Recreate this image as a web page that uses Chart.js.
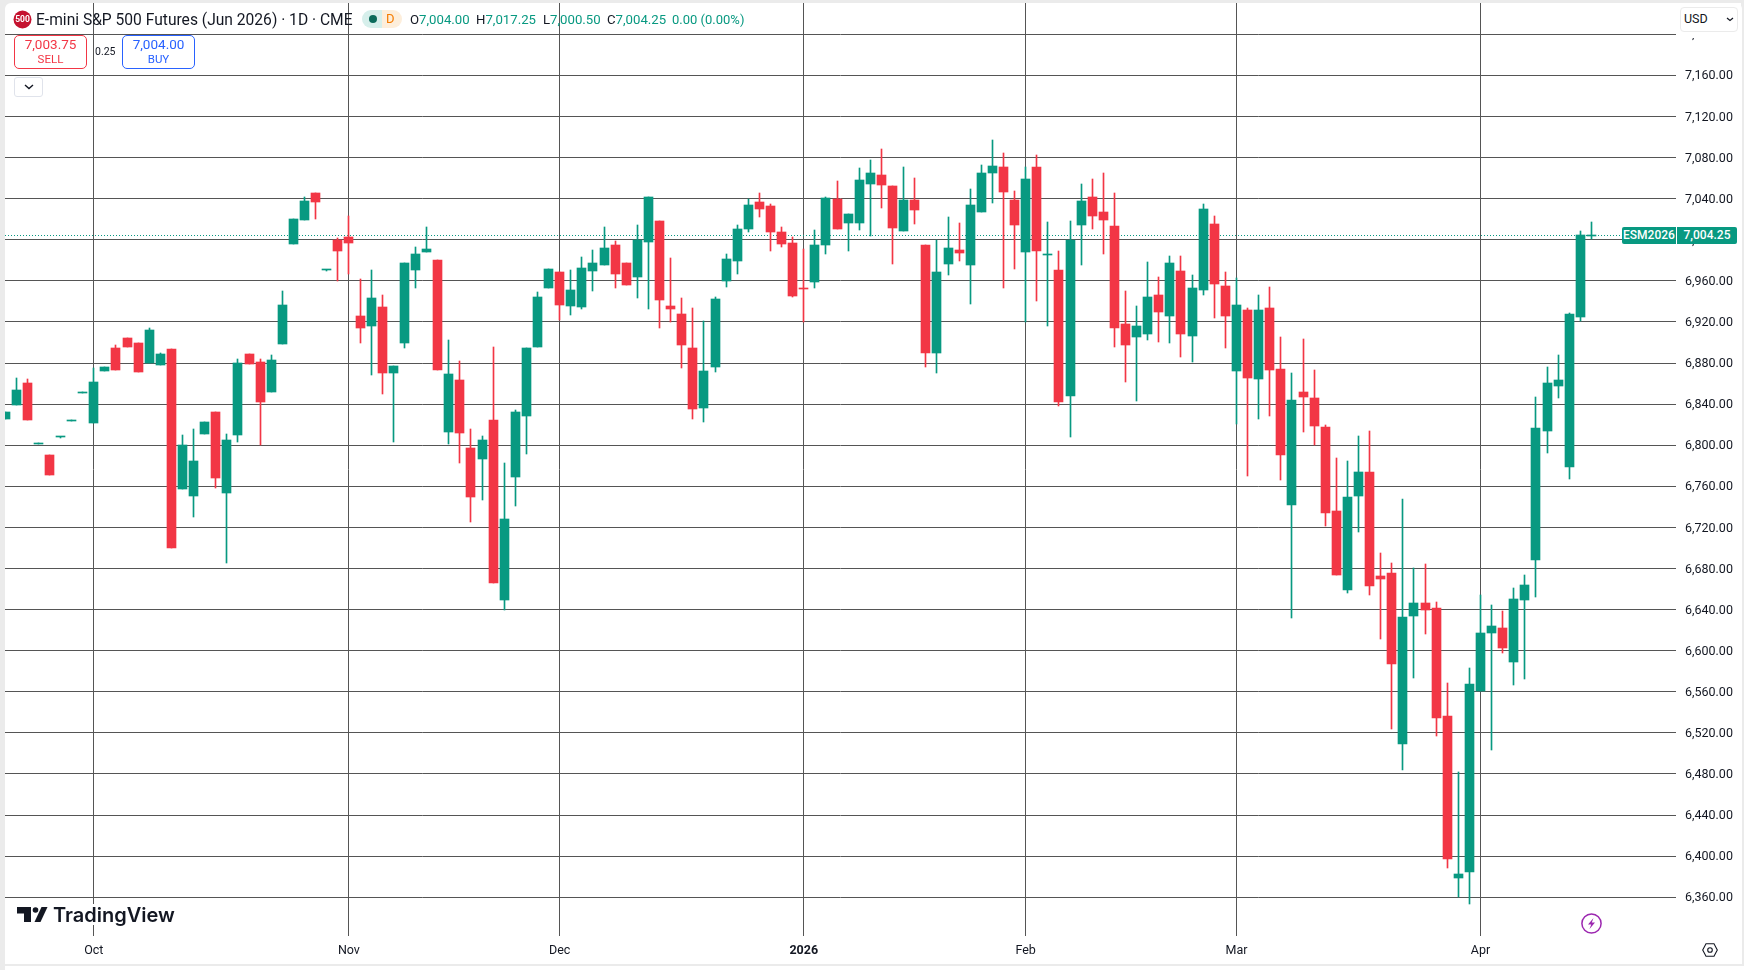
<!DOCTYPE html>
<html>
<head>
<meta charset="utf-8">
<title>ESM2026 daily</title>
<script src="https://cdn.jsdelivr.net/npm/chart.js@4"></script>
<style>
html, body { margin: 0; padding: 0; width: 1744px; height: 970px; overflow: hidden; background: #ebebeb; font-family: Roboto, sans-serif; color: #131722; }
#frame { position: absolute; left: 5px; top: 3px; width: 1737px; height: 961px; background: #fff; border-radius: 6px 6px 0 0; }
#foot { position: absolute; left: 5px; top: 966px; width: 1739px; height: 4px; background: #fff; }
canvas { position: absolute; left: 0; top: 0; }
.t { position: absolute; white-space: nowrap; line-height: 18px; height: 18px; }
.up { color: #089981; }
.box { position: absolute; box-sizing: border-box; background: #fff; }
.order { border-radius: 5px; border: 1px solid; width: 73px; height: 34px; top: 35px; text-align: center; }
.order b { display: block; font-weight: 400; font-size: 13.5px; line-height: 15px; margin-top: 1px; }
.order i { display: block; font-style: normal; font-size: 11.5px; line-height: 13px; margin-top: 1px; }
.tag { position: absolute; background: #089981; color: #fff; font-size: 12px; font-weight: 500; height: 17px; line-height: 17px; text-align: center; }
svg { position: absolute; overflow: visible; }
</style>
</head>
<body>
<div id="frame"></div>
<div id="foot"></div>
<canvas id="chart" width="1744" height="970"></canvas>

<!-- legend row -->
<svg style="left:13px;top:10px" width="19" height="19"><circle cx="9.5" cy="9.5" r="9" fill="#c5122f"/></svg>
<div class="t" style="left:13px;top:10px;width:19px;text-align:center;color:#fff;font-size:8.5px;font-weight:700">500</div>
<div class="t" style="left:36px;top:11px;font-size:15.6px">E-mini S&amp;P 500 Futures (Jun 2026) · 1D · CME</div>
<div class="box" style="left:362px;top:10px;width:20px;height:18px;background:#d6efeb;border-radius:9px 0 0 9px"></div>
<div class="box" style="left:382px;top:10px;width:20px;height:18px;background:#fdeedb;border-radius:0 9px 9px 0"></div>
<svg style="left:368px;top:14px" width="10" height="10"><circle cx="5" cy="5" r="4" fill="#0b6b5b"/></svg>
<div class="t" style="left:386px;top:10px;font-size:13px;color:#f57c00">D</div>
<div class="t" style="left:410px;top:11px;font-size:13.2px">O<span class="up">7,004.00</span></div>
<div class="t" style="left:476px;top:11px;font-size:13.2px">H<span class="up">7,017.25</span></div>
<div class="t" style="left:543px;top:11px;font-size:13.2px">L<span class="up">7,000.50</span></div>
<div class="t" style="left:607px;top:11px;font-size:13.2px">C<span class="up">7,004.25</span></div>
<div class="t up" style="left:672px;top:11px;font-size:13px">0.00 (0.00%)</div>

<!-- order buttons -->
<div class="box order" style="left:14px;border-color:#f23645;color:#f23645"><b>7,003.75</b><i>SELL</i></div>
<div class="t" style="left:95px;top:43px;font-size:10.5px">0.25</div>
<div class="box order" style="left:122px;border-color:#2962ff;color:#2962ff"><b>7,004.00</b><i>BUY</i></div>
<div class="box" style="left:14px;top:77px;width:29px;height:20px;border:1px solid #e0e3eb;border-radius:3px"></div>
<svg style="left:24px;top:84px" width="10" height="6"><path d="M1 1l4 3.5L9 1" fill="none" stroke="#131722" stroke-width="1.4"/></svg>

<!-- right column -->
<div class="box" style="left:1678px;top:3px;width:63px;height:35px"></div>
<div class="box" style="left:1680px;top:7px;width:58px;height:25px;border:1px solid #ebebeb;border-radius:4px"></div>
<div class="t" style="left:1684px;top:10px;font-size:12.5px">USD</div>
<svg style="left:1726px;top:17px" width="8" height="5"><path d="M1 1l3 2.5L7 1" fill="none" stroke="#131722" stroke-width="1.2"/></svg>
<div class="tag" id="tagName" style="left:1622px;width:54px;border-radius:2px 0 0 2px">ESM2026</div>
<div class="tag" id="tagValue" style="left:1677px;width:60px;border-radius:0 2px 2px 0">7,004.25</div>

<!-- logo and icons -->
<div class="box" style="left:16px;top:904px;width:160px;height:21px"></div>
<svg style="left:0;top:0" width="60" height="930">
  <path d="M17 907h14v15h-7v-8.5h-7z" fill="#131722"/>
  <circle cx="35.5" cy="910" r="2.8" fill="#131722"/>
  <path d="M41.5 907H47.5L40.5 922H34.5z" fill="#131722"/>
</svg>
<div class="t" style="left:53px;top:902px;height:26px;line-height:26px;font-family:Inter,sans-serif;font-weight:600;font-size:20px;color:#131722">TradingView</div>
<svg style="left:1581px;top:913px" width="21" height="21">
  <circle cx="10.5" cy="10.5" r="9.6" fill="#fff" stroke="#9c27b0" stroke-width="1.5"/>
  <path d="M12.5 5L7 11.5h3.2L8.5 16l5.5-6.5h-3.2z" fill="#9c27b0"/>
</svg>
<svg style="left:1702px;top:943px" width="16" height="14">
  <path d="M4 .8h8L15.3 7 12 13.2H4L.7 7z" fill="none" stroke="#131722" stroke-width="1.1"/>
  <circle cx="8" cy="7" r="2.3" fill="none" stroke="#131722" stroke-width="1.1"/>
</svg>

<script>
// trading days, MM-DD, one per candle
const categories = [
    '09-19','09-22','09-23','09-24','09-25','09-26','09-29','09-30',
    '10-01','10-02','10-03','10-06','10-07','10-08','10-09','10-10','10-13','10-14','10-15','10-16','10-17','10-20','10-21','10-22','10-23','10-24','10-27','10-28','10-29','10-30','10-31',
    '11-03','11-04','11-05','11-06','11-07','11-10','11-11','11-12','11-13','11-14','11-17','11-18','11-19','11-20','11-21','11-24','11-25','11-26','11-28',
    '12-01','12-02','12-03','12-04','12-05','12-08','12-09','12-10','12-11','12-12','12-15','12-16','12-17','12-18','12-19','12-22','12-23','12-24','12-26','12-29','12-30','12-31',
    '01-02','01-05','01-06','01-07','01-08','01-09','01-12','01-13','01-14','01-15','01-16','01-20','01-21','01-22','01-23','01-26','01-27','01-28','01-29','01-30',
    '02-02','02-03','02-04','02-05','02-06','02-09','02-10','02-11','02-12','02-13','02-17','02-18','02-19','02-20','02-23','02-24','02-25','02-26','02-27',
    '03-02','03-03','03-04','03-05','03-06','03-09','03-10','03-11','03-12','03-13','03-16','03-17','03-18','03-19','03-20','03-23','03-24','03-25','03-26','03-27','03-30','03-31',
    '04-01','04-02','04-06','04-07','04-08','04-09','04-10','04-13','04-14','04-15','04-16'
];

const opens = [
    6825.5,6839.25,6860.5,6801.5,6790.5,6807.5,6824,6851.25,6821.5,6872.25,6894.5,6904.25,6899.5,6879.75,6878,6893.5,
    6757.5,6750.5,6811,6832.25,6753.5,6810,6888.75,6881,6851.75,6898.5,6995.75,7019.25,7045.5,6970.75,6999.75,7002.75,
    6925.75,6916,6934.5,6870.25,6899.5,6970.5,6988,6980.25,6812.75,6863.5,6797.25,6786.5,6824.5,6649.25,6769,6828.5,
    6895.5,6953,6968.5,6935.5,6934.5,6969.5,6975.5,6994.75,6977.25,6963.75,6997.75,7018.25,6935.5,6927.75,6894.5,6836.25,
    6876,6959.5,6979.25,7010.5,7036.75,7032.75,7007.5,6996.75,6952,6959,6994.75,7039.5,7016.25,7016.25,7054.25,7063,
    7052.25,7008.5,7038.75,6994.75,6889.75,6976.25,6990,6975.5,7027,7065,7070.75,7038.75,6988,7070.75,6985.5,6970.5,
    6847.75,7014.25,7041.5,7027,7013.25,6918,6905.25,6908.25,6946.25,6925.75,6969.5,6906.25,6951,7015.25,6955,6872.25,
    6931.5,6864.5,6933.5,6874,6741.75,6851.75,6846,6817.75,6736,6659,6750.5,6774,6672.75,6675.5,6509.25,6633.75,
    6646.5,6641.5,6536.5,6378.75,6384.5,6560.75,6617.25,6622,6589,6649.25,6688.25,6813.75,6857.5,6778.75,6924.75,7004
];
const highs = [
    6832.25,6865.5,6864.5,6801.75,6790.5,6807.75,6824.25,6851.5,6875,6876,6897.5,6904.25,6899.5,6914,6889.75,6893.5,
    6810,6815.75,6822.5,6832.25,6811,6884,6888.75,6884,6887.75,6950,7020,7041.5,7045.5,6971,7001.75,7023,
    6961.75,6970.5,6946.25,6877,6977.25,6993,7012.25,6980.25,6902.5,6882,6815.75,6809,6895.5,6782.75,6834.25,6894.5,
    6949,6971.5,6968.5,6970.5,6983.25,6990,7012.25,6999,6977.25,7014.25,7041.5,7018.25,6982.25,6943.25,6933.5,6921,
    6944.25,6986,7014.25,7039.5,7045.5,7034.75,7012.25,7002.5,6991,7009.5,7041.5,7057,7025,7069.75,7077.5,7088.25,
    7052.25,7070.75,7060,6994.75,6999.5,7022,7016.25,7049.25,7072.75,7097,7084.5,7047.5,7070.75,7082.5,7017.25,6989,
    7018.25,7054.25,7059,7065,7045.5,6950,6935.5,6978.25,6963.75,6984.25,6984.25,6965.75,7034.75,7023,6968.5,6962.75,
    6933.5,6946.25,6954,6905.25,6870.25,6903.25,6873.25,6819.75,6787.5,6784.75,6809,6813.75,6695,6685.25,6747.75,6680.5,
    6684.5,6647.5,6568.5,6482,6583,6654.25,6644.5,6638.5,6661,6673.75,6847,6876,6887.75,6928.75,7008.5,7017.25
];
const lows = [
    6825.5,6839.25,6824.5,6801.5,6771,6807.5,6824,6851.25,6821.5,6872.25,6873.25,6895.5,6871.25,6879.75,6878,6700,
    6757.5,6730,6811,6758.25,6685.25,6803,6879.25,6799.75,6851.75,6898.5,6995.75,7019.25,7020,6970.75,6959.5,6966.5,
    6899.5,6868.25,6849.75,6803,6894.5,6953,6988,6873.25,6801.25,6782.75,6725.25,6746.75,6666,6639.5,6740.75,6791.5,
    6895.5,6953,6921.75,6926.75,6932.5,6950,6975.5,6953,6956,6943.25,6932.5,6914,6919.5,6875,6825.5,6822.5,
    6871.25,6954,6966.5,7007.5,7022,6989,6993,6944.25,6919.5,6953,6986,7010.5,6989,7009.5,7003.5,7030.75,
    6976.25,7008.5,7015.25,6876,6870.25,6965.75,6979.25,6937.5,7027,7035.75,6953,6971.5,6919.5,6940.25,6916,6838.25,
    6808,6975.5,7010.5,6986,6895.5,6861.5,6843,6902.5,6900.5,6899.5,6885.75,6881,6946.25,6923.75,6894.5,6820.5,
    6770,6825.5,6828.5,6766,6631.75,6812.75,6799.75,6721.25,6673.75,6656.25,6715.5,6654.25,6611.5,6523.75,6484,6573.5,
    6616.25,6517,6388.5,6360,6353.5,6560.75,6503.25,6597.75,6566.5,6572.5,6652.25,6792.5,6846,6767,6921,7000.5
];
const closes = [
    6832.25,6853.75,6824.5,6801.75,6771,6807.75,6824.25,6851.5,6861.5,6876,6873.25,6895.5,6871.25,6912,6888.75,6700,
    6799.75,6784.75,6822.5,6768,6805,6879.75,6879.25,6842,6883,6936.5,7020,7037.75,7036.75,6971,6989,6996.75,
    6914,6943.25,6870.25,6877,6977.25,6986,6991,6873.25,6869.25,6811.75,6749.5,6805,6666,6728.25,6832.25,6894.5,
    6944.25,6971.5,6936.5,6951,6972.5,6977.25,6992,6966.5,6956,6999.5,7041.5,6941.25,6932.5,6897.5,6835.25,6872.25,
    6942.25,6981.25,7010.5,7033.75,7029.75,7007.5,6995.75,6945.25,6951.75,6994.75,7040.25,7010.5,7025,7058,7065,7053.25,
    7011.5,7038.75,7029,6889.75,6968.5,6992,6987,7033.75,7065,7071.75,7046.5,7014.25,7059,6989,6985.75,6842,
    6999.5,7037.75,7023,7019.25,6914,6897.5,6916,6944.25,6929.75,6977.25,6908.25,6953,7029.75,6957,6925.75,6936.5,
    6865.5,6931.5,6873.25,6790.5,6844,6847,6818.75,6734,6673.75,6749.5,6774,6663,6669.75,6587,6632.75,6646.5,
    6639.5,6534.5,6397.25,6382.75,6567.5,6617.25,6624,6602.5,6650.25,6664,6816.75,6860.5,6863.5,6927.75,7004.5,7004.25
];

const priceTicks = [7200,7160,7120,7080,7040,7000,6960,6920,6880,6840,6800,6760,6720,6680,6640,6600,6560,6520,6480,6440,6400,6360];
const monthLabels = ['Oct','Nov','Dec','2026','Feb','Mar','Apr'];
const lastClose = closes[closes.length - 1];

const UP = '#089981';
const DOWN = '#F23645';
const xEnd = 150.62; // empty room right of the last candle

// first candle of each month gets a vertical line and a label
const monthStarts = categories
    .map((d, i) => i)
    .filter(i => i > 0 && categories[i].slice(0, 2) !== categories[i - 1].slice(0, 2));

const candleColors = closes.map((c, i) => c >= opens[i] ? UP : DOWN);

// snap bars and the price line to whole pixels so they stay sharp
const snapBars = {
    id: 'snapBars',
    afterDatasetsUpdate(chart) {
        chart.data.datasets.forEach((ds, d) => {
            const points = chart.getDatasetMeta(d).data;
            if (ds.type === 'line') {
                points.forEach(el => { el.y = Math.round(el.y - 0.5) + 0.5; });
                return;
            }
            points.forEach(el => {
                const half = el.width / 2;
                el.x = Math.round(el.x - half) + half;
                const top = Math.round(Math.min(el.y, el.base));
                const bottom = Math.max(Math.round(Math.max(el.y, el.base)), top + 1);
                el.y = top;
                el.base = bottom;
            });
        });
    }
};

const chart = new Chart(document.getElementById('chart').getContext('2d'), {
    type: 'bar',
    data: {
        datasets: [
            {
                label: 'Bodies',
                data: opens.map((o, i) => ({ x: i, y: [o, closes[i]] })),
                backgroundColor: candleColors,
                barThickness: 9,
                minBarLength: 1,
                grouped: false,
                order: 1
            },
            {
                label: 'Wicks',
                data: highs.map((h, i) => ({ x: i, y: [lows[i], h] })),
                backgroundColor: candleColors,
                barThickness: 1,
                grouped: false,
                order: 2
            },
            {
                type: 'line',
                label: 'Last',
                data: [{ x: 0, y: lastClose }, { x: xEnd, y: lastClose }],
                borderColor: UP,
                borderWidth: 1,
                borderDash: [1, 2],
                pointRadius: 0,
                order: 3
            }
        ]
    },
    options: {
        responsive: false,
        animation: false,
        events: [],
        layout: { padding: { left: 5, top: 3, right: 0, bottom: 0 } },
        plugins: { legend: { display: false }, tooltip: { enabled: false } },
        scales: {
            x: {
                type: 'linear',
                min: 0,
                max: xEnd,
                offset: false,
                grid: { offset: false, color: '#555', lineWidth: 1, drawTicks: false },
                border: { display: false },
                afterBuildTicks: axis => { axis.ticks = monthStarts.map(value => ({ value })); },
                afterFit: axis => { axis.height = 34; axis.paddingLeft = 0; axis.paddingRight = 0; },
                ticks: {
                    autoSkip: false,
                    maxRotation: 0,
                    padding: 7,
                    color: '#131722',
                    font: ctx => ({ family: 'Roboto', size: 12.5, weight: ctx.index === 3 ? '700' : '400' }),
                    callback: (value, i) => monthLabels[i]
                }
            },
            y: {
                position: 'right',
                min: 6322.3,
                max: 7230.4,
                grid: { color: '#555', lineWidth: 1, drawTicks: false },
                border: { display: false },
                afterBuildTicks: axis => { axis.ticks = priceTicks.map(value => ({ value })); },
                afterFit: axis => { axis.width = 68; axis.paddingTop = 0; axis.paddingBottom = 0; },
                ticks: {
                    autoSkip: false,
                    padding: 9,
                    labelOffset: 1,
                    color: '#131722',
                    font: { family: 'Roboto', size: 12.5 },
                    callback: v => v.toLocaleString('en-US', { minimumFractionDigits: 2 })
                }
            }
        }
    },
    plugins: [snapBars]
});

// last price tags sit on the price line
const tagTop = Math.round(chart.scales.y.getPixelForValue(lastClose)) - 8;
document.getElementById('tagName').style.top = tagTop + 'px';
document.getElementById('tagValue').style.top = tagTop + 'px';
</script>
</body>
</html>
